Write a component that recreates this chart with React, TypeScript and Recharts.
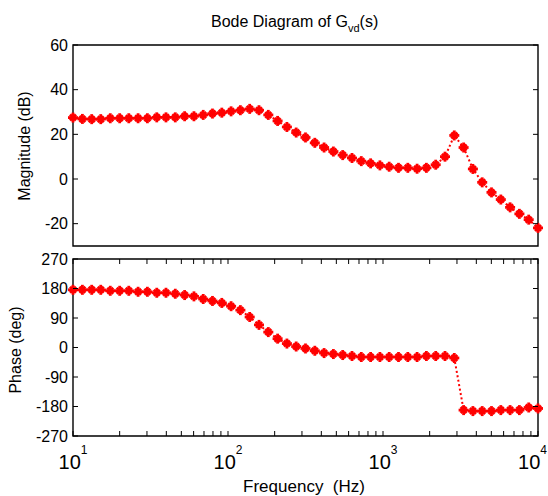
import React from 'react';
import { LineChart, Line, XAxis, YAxis, ReferenceArea } from 'recharts';

// frequency points (Hz)
const freqHz = [
  10, 11.5, 13.2, 15.1, 17.4, 20, 22.9, 26.3, 30.2, 34.7,
  39.8, 45.7, 52.5, 60.3, 69.2, 79.4, 91.2, 104.7, 120.2, 138,
  158.5, 182, 208.9, 239.9, 275.4, 316.2, 363.1, 416.9, 478.6, 549.5,
  631, 724.4, 831.8, 955, 1096.5, 1258.9, 1445.4, 1659.6, 1905.5, 2187.8,
  2511.9, 2884, 3311.3, 3801.9, 4365.2, 5011.9, 5754.4, 6606.9, 7585.8, 8709.6,
  10000,
];

const magnitudeDb = [
  27.5, 26.9, 26.8, 26.8, 27.2, 27.2, 27.2, 27.2, 27.2, 27.6,
  27.6, 27.6, 28.1, 28.1, 28.7, 29.3, 29.7, 30.3, 30.8, 31.4,
  30.8, 28.7, 26.0, 23.3, 20.8, 18.6, 16.2, 14.1, 12.3, 10.7,
  9.4, 8.0, 7.0, 6.1, 5.5, 5.0, 5.0, 4.6, 5.0, 6.4,
  10.0, 19.5, 14.1, 4.5, -1.5, -6.0, -9.2, -12.7, -15.6, -18.2,
  -21.9,
];

const phaseDeg = [
  176, 176, 176, 176, 173, 173, 173, 170, 170, 167,
  167, 164, 160, 156, 148, 142, 136, 126, 114, 93,
  69, 47, 27, 12, 3, -3, -10, -17, -20, -23,
  -26, -29, -29, -29, -29, -29, -29, -29, -26, -26,
  -26, -32, -191, -194, -194, -194, -191, -191, -191, -183,
  -186,
];

const xDecadeTicks = [10, 100, 1000, 10000];
const xDecadeExponents = ['1', '2', '3', '4'];
const xMinorTicks = [
  20, 30, 40, 50, 60, 70, 80, 90,
  200, 300, 400, 500, 600, 700, 800, 900,
  2000, 3000, 4000, 5000, 6000, 7000, 8000, 9000,
];
const magTicks = [-20, 0, 20, 40, 60];
const phaseTicks = [-270, -180, -90, 0, 90, 180, 270];

const data = freqHz.map((f, i) => ({ f, mag: magnitudeDb[i], phase: phaseDeg[i] }));

const RED = '#ff0000';
const FONT = '"Liberation Sans", Arial, Helvetica, sans-serif';
const W = 548;
const PLOT_L = 73;
const PLOT_R = 538;
const TICK = 5;

const Star = (props: any) => {
  const { cx, cy } = props;
  if (cx == null || cy == null) return null;
  return (
    <g stroke={RED} strokeWidth={2.8}>
      <line x1={cx - 5} y1={cy} x2={cx + 5} y2={cy} />
      <line x1={cx} y1={cy - 5} x2={cx} y2={cy + 5} />
      <line x1={cx - 3} y1={cy - 3} x2={cx + 3} y2={cy + 3} />
      <line x1={cx - 3} y1={cy + 3} x2={cx + 3} y2={cy - 3} />
    </g>
  );
};

const makeXTick = (top: number, bottom: number, labels: boolean) => (props: any) => {
  const { x, payload } = props;
  const idx = xDecadeTicks.indexOf(payload.value);
  const last = idx === xDecadeTicks.length - 1;
  return (
    <g>
      <line x1={x} y1={bottom} x2={x} y2={bottom - TICK} stroke="#000" />
      <line x1={x} y1={top} x2={x} y2={top + TICK} stroke="#000" />
      {labels && idx >= 0 && (
        <text
          x={last ? W - 1 : x} y={bottom + 33} textAnchor={last ? 'end' : 'middle'}
          fontSize={20} fontFamily={FONT} fill="#000"
        >
          10<tspan dy={-15} fontSize={12}>{xDecadeExponents[idx]}</tspan>
        </text>
      )}
    </g>
  );
};

const YTick = (props: any) => {
  const { y, payload } = props;
  return (
    <g>
      <line x1={PLOT_L} y1={y} x2={PLOT_L + TICK} y2={y} stroke="#000" />
      <line x1={PLOT_R} y1={y} x2={PLOT_R - TICK} y2={y} stroke="#000" />
      <text x={PLOT_L - 5} y={y} dy="0.36em" textAnchor="end" fontSize={16} fontFamily={FONT} fill="#000">
        {payload.value}
      </text>
    </g>
  );
};

const allXTicks = [...xDecadeTicks, ...xMinorTicks];

export default function App() {
  return (
    <div style={{ position: 'absolute', left: 0, top: 0, width: W, height: 496, background: '#fff' }}>
      <div style={{ position: 'absolute', left: 0, top: 0 }}>
        <LineChart width={W} height={252} data={data} margin={{ top: 45, right: W - PLOT_R, bottom: 6, left: 0 }}>
          <XAxis
            dataKey="f" type="number" scale="log" domain={[10, 10000]}
            ticks={allXTicks} interval={0} height={0}
            axisLine={false} tickLine={false} tick={makeXTick(45, 246, false)}
          />
          <YAxis
            type="number" domain={[-30, 60]} ticks={magTicks} interval={0} width={PLOT_L}
            axisLine={false} tickLine={false} tick={<YTick />}
          />
          <ReferenceArea x1={10} x2={10000} y1={-30} y2={60} fill="none" stroke="#000" strokeWidth={1.4} />
          <Line
            dataKey="mag" type="linear" stroke={RED} strokeWidth={2} strokeDasharray="2 2.5"
            dot={(p: any) => <Star key={p.index} {...p} />} isAnimationActive={false}
          />
        </LineChart>
      </div>
      <div style={{ position: 'absolute', left: 0, top: 252 }}>
        <LineChart width={W} height={244} data={data} margin={{ top: 7, right: W - PLOT_R, bottom: 0, left: 0 }}>
          <XAxis
            dataKey="f" type="number" scale="log" domain={[10, 10000]}
            ticks={allXTicks} interval={0} height={60}
            axisLine={false} tickLine={false} tick={makeXTick(7, 184, true)}
          />
          <YAxis
            type="number" domain={[-270, 270]} ticks={phaseTicks} interval={0} width={PLOT_L}
            axisLine={false} tickLine={false} tick={<YTick />}
          />
          <ReferenceArea x1={10} x2={10000} y1={-270} y2={270} fill="none" stroke="#000" strokeWidth={1.4} />
          <Line
            dataKey="phase" type="linear" stroke={RED} strokeWidth={2} strokeDasharray="2 2.5"
            dot={(p: any) => <Star key={p.index} {...p} />} isAnimationActive={false}
          />
        </LineChart>
      </div>
      <svg width={W} height={496} style={{ position: 'absolute', left: 0, top: 0, pointerEvents: 'none' }}>
        <text x={211} y={27} fontSize={16} fontFamily={FONT} fill="#000">
          Bode Diagram of G<tspan dy={5} fontSize={11}>vd</tspan><tspan dy={-5} fontSize={16}>(s)</tspan>
        </text>
        <text x={30} y={146} transform="rotate(-90, 30, 146)" textAnchor="middle" fontSize={16} fontFamily={FONT} fill="#000">
          Magnitude (dB)
        </text>
        <text x={21} y={350} transform="rotate(-90, 21, 350)" textAnchor="middle" fontSize={16} fontFamily={FONT} fill="#000">
          Phase (deg)
        </text>
        <text x={304} y={492} textAnchor="middle" fontSize={17} fontFamily={FONT} fill="#000" xmlSpace="preserve">
          Frequency  (Hz)
        </text>
      </svg>
    </div>
  );
}
